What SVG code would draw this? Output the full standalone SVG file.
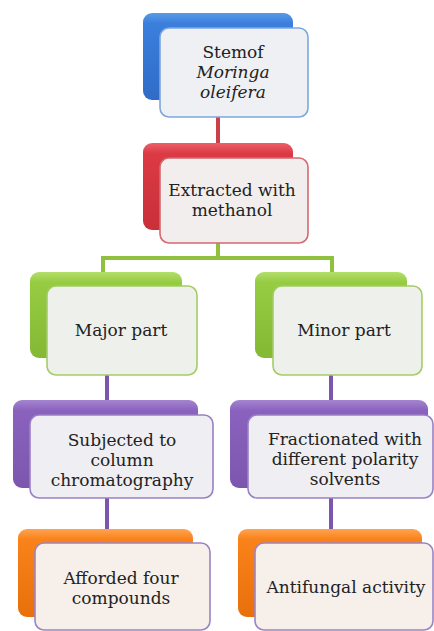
<svg xmlns="http://www.w3.org/2000/svg" width="434" height="631" viewBox="0 0 434 631">
<defs>
<linearGradient id="gBlue" x1="0" y1="0" x2="0" y2="1"><stop offset="0" stop-color="#5a9ae6"/><stop offset="0.12" stop-color="#3b7fdc"/><stop offset="1" stop-color="#2f6cc8"/></linearGradient>
<linearGradient id="gRed" x1="0" y1="0" x2="0" y2="1"><stop offset="0" stop-color="#ec6068"/><stop offset="0.12" stop-color="#dc3a44"/><stop offset="1" stop-color="#c8303a"/></linearGradient>
<linearGradient id="gGreen" x1="0" y1="0" x2="0" y2="1"><stop offset="0" stop-color="#b4de6a"/><stop offset="0.12" stop-color="#96cc42"/><stop offset="1" stop-color="#84b835"/></linearGradient>
<linearGradient id="gPurple" x1="0" y1="0" x2="0" y2="1"><stop offset="0" stop-color="#a584cf"/><stop offset="0.12" stop-color="#8a62be"/><stop offset="1" stop-color="#7c56ae"/></linearGradient>
<linearGradient id="gOrange" x1="0" y1="0" x2="0" y2="1"><stop offset="0" stop-color="#ffa350"/><stop offset="0.12" stop-color="#f9821a"/><stop offset="1" stop-color="#e8700c"/></linearGradient>
</defs>
<style>
.front{stroke-width:1.6}
text{font-family:"DejaVu Serif","Liberation Serif",serif;font-size:17px;fill:#222;text-anchor:middle}
.i{font-style:italic}
.c{fill:none;stroke-width:4}
</style>
<g id="connectors">
<line class="c" x1="218" y1="117" x2="218" y2="145" stroke="#c94048"/>
<path class="c" d="M218 243 V258 M103 258 H332 M103 256 V274 M332 256 V274" stroke="#8fc13f"/>
<line class="c" x1="107" y1="375" x2="107" y2="402" stroke="#7c56ae"/>
<line class="c" x1="331" y1="375" x2="331" y2="402" stroke="#7c56ae"/>
<line class="c" x1="107" y1="498" x2="107" y2="531" stroke="#7c56ae"/>
<line class="c" x1="331" y1="498" x2="331" y2="531" stroke="#7c56ae"/>
</g>
<g id="node-stem">
<rect x="143" y="13" width="150" height="87" rx="9" fill="url(#gBlue)"/>
<rect class="front" x="160" y="28" width="148" height="89" rx="9" fill="#eef0f4" stroke="#7ea6de"/>
<text x="233" y="58">Stemof</text>
<text class="i" x="233" y="78">Moringa</text>
<text class="i" x="233" y="98">oleifera</text>
</g>
<g id="node-extract">
<rect x="143" y="143" width="150" height="87" rx="9" fill="url(#gRed)"/>
<rect class="front" x="160" y="158" width="148" height="85" rx="9" fill="#f3eeee" stroke="#d26a70"/>
<text x="232" y="196">Extracted with</text>
<text x="232" y="216">methanol</text>
</g>
<g id="node-major">
<rect x="30" y="272" width="152" height="86" rx="9" fill="url(#gGreen)"/>
<rect class="front" x="47" y="286" width="150" height="89" rx="9" fill="#eef0ec" stroke="#a4cc66"/>
<text x="121" y="336">Major part</text>
</g>
<g id="node-minor">
<rect x="255" y="272" width="152" height="86" rx="9" fill="url(#gGreen)"/>
<rect class="front" x="273" y="286" width="149" height="89" rx="9" fill="#eef0ec" stroke="#a4cc66"/>
<text x="344" y="336">Minor part</text>
</g>
<g id="node-column">
<rect x="13" y="400" width="185" height="88" rx="9" fill="url(#gPurple)"/>
<rect class="front" x="30" y="415" width="183" height="83" rx="9" fill="#efeef2" stroke="#9a80c4"/>
<text x="122" y="446">Subjected to</text>
<text x="122" y="466">column</text>
<text x="122" y="486">chromatography</text>
</g>
<g id="node-fraction">
<rect x="230" y="400" width="198" height="88" rx="9" fill="url(#gPurple)"/>
<rect class="front" x="248" y="415" width="185" height="83" rx="9" fill="#efeef2" stroke="#9a80c4"/>
<text x="345" y="445">Fractionated with</text>
<text x="345" y="465">different polarity</text>
<text x="345" y="485">solvents</text>
</g>
<g id="node-afforded">
<rect x="18" y="529" width="175" height="88" rx="9" fill="url(#gOrange)"/>
<rect class="front" x="35" y="543" width="175" height="87" rx="9" fill="#f6efea" stroke="#9c84c4"/>
<text x="121" y="584">Afforded four</text>
<text x="121" y="604">compounds</text>
</g>
<g id="node-antifungal">
<rect x="238" y="529" width="184" height="88" rx="9" fill="url(#gOrange)"/>
<rect class="front" x="255" y="543" width="178" height="87" rx="9" fill="#f6efea" stroke="#9c84c4"/>
<text x="346" y="593">Antifungal activity</text>
</g>
</svg>
